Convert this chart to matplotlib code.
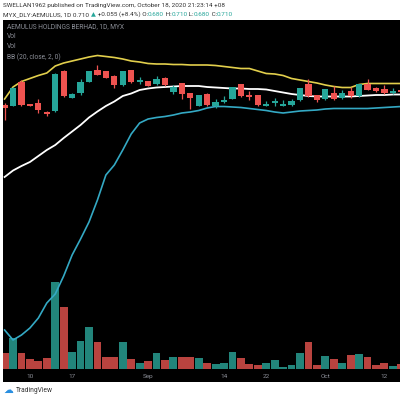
import matplotlib
matplotlib.use("Agg")
import matplotlib.pyplot as plt
from matplotlib.patches import Rectangle

# ---- data ----
opens  = [0.680,0.679,0.726,0.682,0.685,0.667,0.668,0.748,0.695,0.705,0.727,0.750,0.748,0.738,0.720,0.750,
          0.727,0.728,0.723,0.735,0.707,0.723,0.705,0.679,0.703,0.679,0.687,0.693,0.721,0.701,0.700,0.679,
          0.685,0.679,0.681,0.690,0.721,0.700,0.692,0.704,0.694,0.708,0.698,0.723,0.715,0.712,0.704,0.711]
highs  = [0.684,0.716,0.730,0.683,0.692,0.668,0.744,0.750,0.704,0.732,0.748,0.761,0.749,0.740,0.748,0.751,
          0.736,0.729,0.739,0.736,0.721,0.725,0.705,0.701,0.704,0.692,0.699,0.716,0.722,0.708,0.701,0.688,
          0.695,0.690,0.693,0.715,0.733,0.701,0.713,0.719,0.710,0.717,0.722,0.732,0.717,0.720,0.714,0.712]
lows   = [0.650,0.678,0.678,0.678,0.664,0.658,0.667,0.696,0.694,0.700,0.726,0.740,0.734,0.715,0.719,0.725,
          0.722,0.718,0.720,0.719,0.702,0.692,0.672,0.678,0.678,0.674,0.685,0.692,0.697,0.690,0.679,0.678,
          0.678,0.678,0.678,0.689,0.697,0.686,0.691,0.690,0.693,0.695,0.697,0.710,0.707,0.703,0.703,0.706]
closes = [0.674,0.715,0.680,0.679,0.671,0.663,0.743,0.698,0.703,0.725,0.747,0.741,0.735,0.720,0.747,0.726,
          0.731,0.719,0.733,0.720,0.717,0.702,0.694,0.700,0.681,0.687,0.690,0.715,0.698,0.697,0.680,0.683,
          0.688,0.683,0.689,0.714,0.699,0.690,0.712,0.693,0.704,0.698,0.721,0.711,0.708,0.704,0.708,0.707]
volumes = [1.63,3.07,1.63,1.00,0.80,1.07,8.67,6.23,1.73,2.77,4.20,2.73,1.20,1.20,2.67,1.00,
           0.60,0.80,1.63,0.93,1.23,1.23,1.23,1.07,0.60,0.50,0.62,1.72,1.07,0.53,0.40,0.57,
           0.90,0.23,0.40,1.60,2.73,0.40,1.30,1.00,0.60,1.40,1.50,1.23,0.40,0.60,0.30,0.50]
bb_upper = [0.692,0.716,0.727,0.733,0.739,0.744,0.758,0.764,0.768,0.772,0.776,0.779,0.777,0.775,0.772,0.768,
            0.766,0.763,0.762,0.762,0.761,0.761,0.760,0.760,0.760,0.759,0.757,0.755,0.753,0.753,0.748,0.743,
            0.742,0.739,0.733,0.730,0.727,0.724,0.720,0.717,0.715,0.715,0.721,0.723,0.723,0.723,0.723,0.723]
bb_basis = [0.536,0.549,0.558,0.566,0.578,0.590,0.600,0.614,0.627,0.640,0.655,0.667,0.678,0.687,0.698,0.703,
            0.710,0.713,0.715,0.716,0.717,0.718,0.718,0.718,0.716,0.715,0.714,0.713,0.713,0.712,0.712,0.711,
            0.708,0.705,0.702,0.700,0.698,0.697,0.697,0.697,0.697,0.697,0.698,0.699,0.700,0.700,0.701,0.701]
bb_lower = [0.230,0.210,0.220,0.234,0.254,0.284,0.302,0.338,0.380,0.412,0.446,0.490,0.540,0.560,0.590,0.622,
            0.644,0.652,0.655,0.657,0.660,0.664,0.666,0.669,0.674,0.677,0.677,0.676,0.675,0.673,0.671,0.669,
            0.666,0.664,0.666,0.668,0.669,0.670,0.672,0.673,0.673,0.673,0.673,0.673,0.674,0.675,0.676,0.677]
tick_idx = [3, 8, 17, 26, 31, 38, 45]
tick_labels = ["10", "17", "Sep", "14", "22", "Oct", "12"]

UP = "#26a69a"; DOWN = "#ef5350"
VUP = "#22857b"; VDOWN = "#b9433f"
TXT = "#8c8f98"

fig = plt.figure(figsize=(4, 4), dpi=100, facecolor="white")
W = H = 400.0
def fx(x): return x / W
def fy(y): return 1 - y / H

# black chart background
fig.patches.append(Rectangle((fx(3), fy(382)), fx(397), (382 - 20) / H,
                             transform=fig.transFigure, facecolor="black", edgecolor="none", zorder=-5))

ax_v = fig.add_axes([fx(3), fy(369), fx(397), (369 - 20) / H])
ax = ax_v.twinx()
ax.set_zorder(ax_v.get_zorder() + 1)
ax.patch.set_visible(False)
ax_v.set_facecolor("black")

n = len(opens)
xs = list(range(n))
up = [c >= o for o, c in zip(opens, closes)]

ax_v.bar(xs, volumes, width=0.93, color=[VUP if u else VDOWN for u in up], linewidth=0)
ax_v.set_ylim(0, 34.9)

ax.plot(xs, bb_upper, color="#e2cf4c", lw=1.2, zorder=2)
ax.plot(xs, bb_basis, color="white", lw=1.3, zorder=2)
ax.plot(xs, bb_lower, color="#34a9c4", lw=1.2, zorder=2)

for i in xs:
    c = UP if up[i] else DOWN
    ax.vlines(i, lows[i], highs[i], color=c, lw=0.9, zorder=3)
    lo, hi = min(opens[i], closes[i]), max(opens[i], closes[i])
    ax.bar(i, max(hi - lo, 0.0015), bottom=lo, width=0.74, color=c, linewidth=0, zorder=4)

ax.set_ylim(0.152, 0.85)
for a in (ax, ax_v):
    a.set_xlim(-0.19, 46.85)
    for s in a.spines.values():
        s.set_visible(False)
    a.set_yticks([])
ax.set_xticks([])
ax_v.set_xticks(tick_idx)
ax_v.set_xticklabels(tick_labels)
ax_v.tick_params(axis="x", length=0, pad=3.5, labelsize=4.6, labelcolor=TXT)
for t in ax_v.get_xticklabels():
    t.set_fontfamily("Roboto")

# header texts
fig.text(fx(3), fy(5.5), "SWELLAN1962 published on TradingView.com, October 18, 2020 21:23:14 +08",
         fontsize=4.6, family="Roboto", color="#333333", va="center", ha="left")
parts = [("MYX_DLY:AEMULUS, 1D 0.710 ", "#333333"), ("\u25b2", "#26a69a"),
         (" +0.055 (+8.4%) O:", "#333333"), ("0.680", "#26a69a"), (" H:", "#333333"),
         ("0.710", "#26a69a"), (" L:", "#333333"), ("0.680", "#26a69a"), (" C:", "#333333"),
         ("0.710", "#26a69a")]
renderer = fig.canvas.get_renderer()
xpos = fx(3)
for s, col in parts:
    t = fig.text(xpos, fy(14.5), s, fontsize=4.6, family=["Roboto", "DejaVu Sans"], color=col,
                 va="center", ha="left")
    bb = t.get_window_extent(renderer=renderer)
    xpos += bb.width / (W)

fig.text(fx(7), fy(27), "AEMULUS HOLDINGS BERHAD, 1D, MYX", fontsize=4.8, family="Roboto",
         color=TXT, va="center")
fig.text(fx(7), fy(37), "Vol", fontsize=4.8, family="Roboto", color=TXT, va="center")
fig.text(fx(7), fy(47), "Vol", fontsize=4.8, family="Roboto", color=TXT, va="center")
fig.text(fx(7), fy(57), "BB (20, close, 2, 0)", fontsize=4.8, family="Roboto", color=TXT, va="center")

# footer
fig.text(fx(3), fy(390), "\u2601", fontsize=7, color="#2a8fe0", va="center")
fig.text(fx(16), fy(390), "TradingView", fontsize=4.8, family="Roboto", color="#333333", va="center")

fig.savefig("out.png", dpi=100, facecolor="white")
